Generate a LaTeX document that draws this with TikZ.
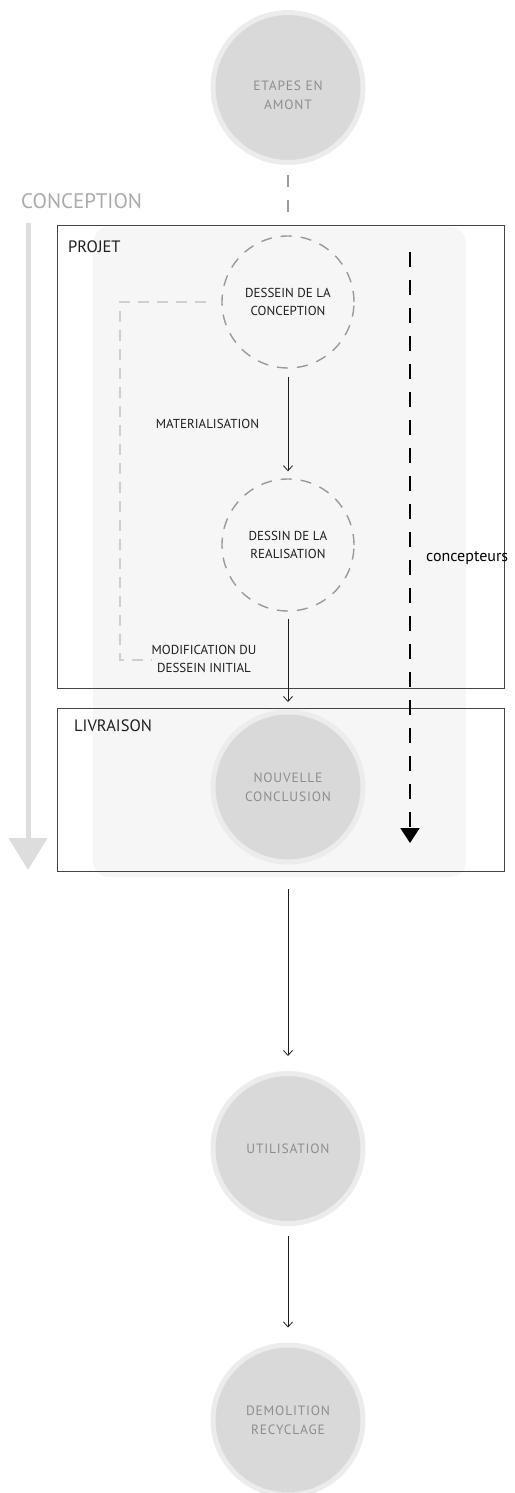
\documentclass[tikz,border=0pt]{standalone}
\usepackage{fontspec}
\setmainfont{PT Sans}
\newfontfamily\phasefont{PT Sans}[LetterSpace=6]
\usetikzlibrary{arrows.meta}
\definecolor{ink}{HTML}{1E1E1E}
\definecolor{frame}{HTML}{444444}
\definecolor{phase}{HTML}{D9D9D9}
\definecolor{phasering}{HTML}{ECECEC}
\definecolor{phasetext}{HTML}{8E8E8E}
\definecolor{dashgray}{HTML}{9A9A9A}
\definecolor{loopgray}{HTML}{CFCFCF}
\definecolor{panel}{HTML}{F6F6F6}
\definecolor{timeline}{HTML}{DDDDDD}
\definecolor{headline}{HTML}{AAAAAA}

\begin{document}
\begin{tikzpicture}[x=1pt,y=-1pt,
  phasenode/.style={circle, fill=phase, draw=phasering, line width=5pt,
    minimum size=150pt, inner sep=0pt, text=phasetext,
    font=\phasefont\fontsize{13.5}{19}\selectfont, align=center},
  phasetxt/.style={text=phasetext, font=\phasefont\fontsize{13.5}{19}\selectfont,
    align=center, inner sep=0pt},
  designnode/.style={circle, draw=dashgray, line width=1.4pt,
    dash pattern=on 11pt off 9pt, minimum size=132pt, inner sep=0pt,
    text=ink, font=\fontsize{13}{17.5}\selectfont, align=center},
  flow/.style={draw=ink, line width=0.8pt,
    -{Straight Barb[length=5pt,width=9pt]}},
  stagebox/.style={draw=frame, line width=1pt, inner sep=0pt},
  stagetitle/.style={anchor=west, text=ink,
    font=\fontsize{16.5}{18}\selectfont, inner sep=0pt},
  note/.style={text=ink, font=\fontsize{13}{18}\selectfont,
    align=center, inner sep=0pt},
]
\path[use as bounding box] (0,0) rectangle (514,1493);

% shaded working area behind both stages
\fill[panel, rounded corners=16pt] (93,227) rectangle (466,877);

% stage frames
\node[stagebox, minimum width=447pt, minimum height=463pt, anchor=north west]
  (projet) at (57,225) {};
\node[stagebox, minimum width=447pt, minimum height=163pt, anchor=north west]
  (livraison) at (57,708) {};
\node[stagetitle] (projetlbl) at (68,246.5) {PROJET};
\node[stagetitle] (livraisonlbl) at (74,726) {LIVRAISON};

% timeline on the left
\node[anchor=west, text=headline, font=\fontsize{21}{24}\selectfont, inner sep=0pt]
  (conception) at (21,201) {CONCEPTION};
\coordinate (tlstart) at (28,223);
\coordinate (tlend) at (28,870);
\draw[timeline, line width=5pt, -{Triangle[length=32pt,width=38pt]}]
  (tlstart) -- (tlend);

% phases
\node[phasenode] (amont) at (288,87.5) {};
\node[phasetxt] (amontlbl) at (288,95) {ETAPES EN\\AMONT};
\node[phasenode] (nouvelle) at (288,787) {NOUVELLE\\CONCLUSION};
\node[phasenode] (utilisation) at (288,1148.5) {UTILISATION};
\node[phasenode] (demolition) at (288,1420) {DEMOLITION\\RECYCLAGE};

% design states
\node[designnode] (dessein) at (288,302) {DESSEIN DE LA\\CONCEPTION};
\node[designnode] (dessin) at (288,545) {DESSIN DE LA\\REALISATION};

% points where the vertical connectors meet the frames
\coordinate (projtop) at (amont.south |- projet.north);
\coordinate (livtop) at (dessin.south |- livraison.north);
\coordinate (livbottom) at (dessin.south |- livraison.south);

% connectors
\draw[dashgray, line width=1.4pt, dash pattern=on 12pt off 13pt]
  ([yshift=-10pt]amont.south) -- ([yshift=3pt]projtop);
\draw[flow] ([yshift=-8pt]dessein.south) -- ([yshift=7pt]dessin.north);
\draw[flow] ([yshift=-7pt]dessin.south) -- ([yshift=6pt]livtop);
\draw[flow] ([yshift=-17pt]livbottom) -- ([yshift=15pt]utilisation.north);
\draw[flow] ([yshift=-10pt]utilisation.south) -- ([yshift=15pt]demolition.north);

% feedback loop to the initial design
\coordinate (loopcorner) at (120,660);
\coordinate (loopend) at (152,660);
\draw[loopgray, line width=1.3pt, dash pattern=on 11pt off 8pt]
  ([xshift=-15pt]dessein.west) -| (loopcorner) -- (loopend);

\node[note] (materialisation) at (207.5,424) {MATERIALISATION};
\node[note] (modification) at (204,659) {MODIFICATION DU\\DESSEIN INITIAL};

% designers' involvement
\coordinate (dtop) at (410,252);
\coordinate (dend) at (410,843);
\draw[black, line width=2pt, dash pattern=on 15pt off 13pt,
  -{Triangle[length=15pt,width=19pt]}] (dtop) -- (dend);
\node[anchor=west, text=black, font=\fontsize{16}{18}\selectfont, inner sep=0pt]
  (concepteurs) at (426,558) {concepteurs};
\end{tikzpicture}
\end{document}
